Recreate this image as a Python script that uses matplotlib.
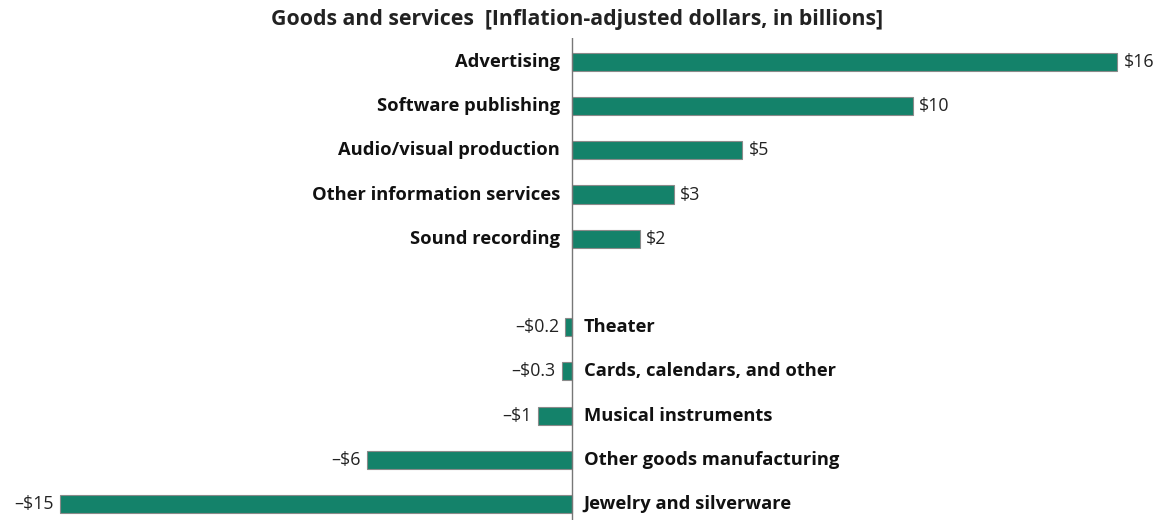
import numpy as np
import matplotlib.pyplot as plt

plt.rcParams['font.family'] = ['Open Sans', 'DejaVu Sans']

# gainers on top, losers below, one empty row between them
gain_names = ["Advertising", "Software publishing", "Audio/visual production",
              "Other information services", "Sound recording"]
gain_vals = [16, 10, 5, 3, 2]
gain_labels = ["$16", "$10", "$5", "$3", "$2"]

loss_names = ["Theater", "Cards, calendars, and other", "Musical instruments",
              "Other goods manufacturing", "Jewelry and silverware"]
loss_vals = [-0.2, -0.3, -1, -6, -15]
loss_labels = ["\u2013$0.2", "\u2013$0.3", "\u2013$1", "\u2013$6", "\u2013$15"]

title = "Goods and services  [Inflation-adjusted dollars, in billions]"

bar_color = "#14826a"
edge_color = "#8a8a8a"

fig = plt.figure(figsize=(11.56, 5.20), dpi=100)
ax = fig.add_axes([0, 0, 1, 482 / 520])

y_gain = np.arange(len(gain_vals))
y_loss = np.arange(len(loss_vals)) + len(gain_vals) + 1

ax.barh(y_gain, gain_vals, height=0.41, color=bar_color, edgecolor=edge_color, linewidth=0.8)
ax.barh(y_loss, loss_vals, height=0.41, color=bar_color, edgecolor=edge_color, linewidth=0.8)

ax.axvline(0, color="#777777", linewidth=1.0, zorder=5)

pad = 0.35
name_size = 13.2
value_size = 12.8
for y, v, name, lab in zip(y_gain, gain_vals, gain_names, gain_labels):
    ax.text(-pad, y, name, ha="right", va="center", fontsize=name_size, fontweight="bold", color="#111111")
    ax.text(v + 0.18, y, lab, ha="left", va="center", fontsize=value_size, color="#222222")

for y, v, name, lab in zip(y_loss, loss_vals, loss_names, loss_labels):
    ax.text(pad, y, name, ha="left", va="center", fontsize=name_size, fontweight="bold", color="#111111")
    ax.text(v - 0.18, y, lab, ha="right", va="center", fontsize=value_size, color="#222222")

ax.set_xlim(-16.77, 17.13)
ax.set_ylim(10.36, -0.54)
ax.axis("off")

fig.text(577 / 1156, 1 - 20 / 520, title, ha="center", va="center",
         fontsize=15.3, fontweight="bold", color="#222222")

fig.savefig("out.png", dpi=100)
